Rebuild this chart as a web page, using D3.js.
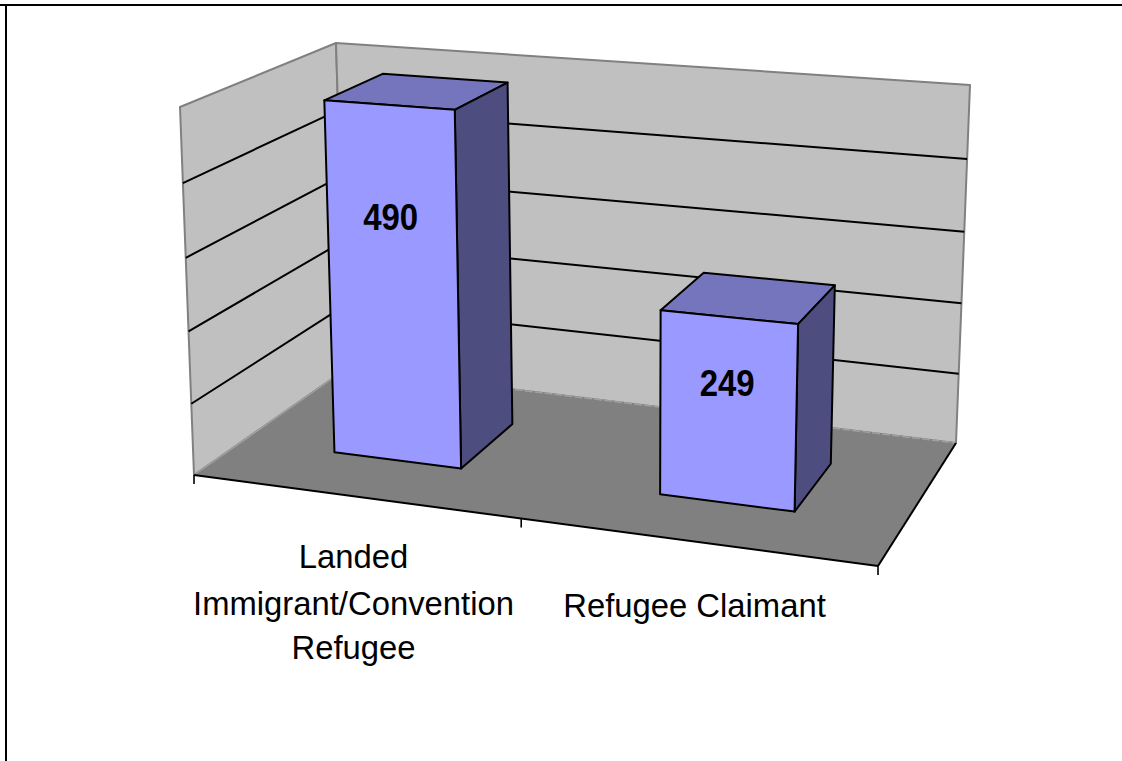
<!DOCTYPE html>
<html><head><meta charset="utf-8">
<script src="https://cdn.jsdelivr.net/npm/d3@7"></script>
<style>html,body{margin:0;padding:0;background:#fff}svg{display:block}text{font-family:"Liberation Sans",Arial,sans-serif}</style>
</head><body><svg id="c" width="1122" height="761"></svg>
<script>
const categories = ["Landed Immigrant/Convention Refugee", "Refugee Claimant"];
const categoryLines = [["Landed", "Immigrant/Convention", "Refugee"], ["Refugee Claimant"]];
const values = [490, 249];
const valueTicks = [0, 100, 200, 300, 400, 500];

const W = 1122, H = 761;
const svg = d3.select("#c");

// unit-square -> quadrilateral projective map (corners: u0w0, u1w0, u1w1, u0w1)
function quad(p0, p1, p2, p3) {
  const dx1 = p1[0]-p2[0], dx2 = p3[0]-p2[0], sx = p0[0]-p1[0]+p2[0]-p3[0];
  const dy1 = p1[1]-p2[1], dy2 = p3[1]-p2[1], sy = p0[1]-p1[1]+p2[1]-p3[1];
  const den = dx1*dy2 - dx2*dy1;
  const g = (sx*dy2 - dx2*sy)/den, h = (dx1*sy - sx*dy1)/den;
  const a = p1[0]-p0[0]+g*p1[0], b = p3[0]-p0[0]+h*p3[0], c = p0[0];
  const d = p1[1]-p0[1]+g*p1[1], e = p3[1]-p0[1]+h*p3[1], f = p0[1];
  return (u, w) => { const q = g*u+h*w+1; return [(a*u+b*w+c)/q, (d*u+e*w+f)/q]; };
}
const floorMap = quad([194,475],[878,566],[956,443],[346,369]);
const topMap   = quad([180,107],[890,160],[970,85],[336,43]);

const xScale = d3.scaleBand().domain(categories).range([-0.006,0.994]).paddingInner(0.604).paddingOuter(0.302);
const yScale = d3.scaleLinear().domain([0,500]).range([0,1]);
const k = 0.96;
function P(u, val, w) {
  const v = yScale(val), s = v*k/(1+(k-1)*v);
  const a = floorMap(u,w), b = topMap(u,w);
  return [a[0]+(b[0]-a[0])*s, a[1]+(b[1]-a[1])*s];
}
const line = d3.line();
const poly = (pts, fill, stroke, sw) => svg.append("path").attr("d", line(pts)+"Z")
  .attr("fill", fill).attr("stroke", stroke||"none").attr("stroke-width", sw||0).attr("stroke-linejoin","round");
const seg = (a, b, stroke, sw, dash) => svg.append("line")
  .attr("x1",a[0]).attr("y1",a[1]).attr("x2",b[0]).attr("y2",b[1])
  .attr("stroke",stroke).attr("stroke-width",sw).attr("stroke-dasharray",dash||null);

// outer frame
seg([0,5],[W,5],"#000",2);
seg([6,4],[6,H],"#000",2);

// walls
const maxV = 500, grey = "#808080";
poly([P(0,0,0),P(0,maxV,0),P(0,maxV,1),P(0,0,1)],"#C0C0C0",grey,2);
poly([P(0,0,1),P(0,maxV,1),P(1,maxV,1),P(1,0,1)],"#C0C0C0",grey,2);
valueTicks.slice(1,-1).forEach(t => {
  seg(P(0,t,0),P(0,t,1),"#000",2);
  seg(P(0,t,1),P(1,t,1),"#000",2);
});
// floor
poly([P(0,0,0),P(1,0,0),P(1,0,1),P(0,0,1)],"#808080");
seg(P(0,0,1),P(1,0,1),"#a0a0a0",1.5,"8 2");
seg(P(0,0,0),P(0,0,1),"#a0a0a0",1.5);
seg(P(0,0,0),P(1,0,0),"#000",2);
seg(P(1,0,0),P(1,0,1),"#000",2);
const step = xScale.step();
[0, xScale(categories[1]) - step*0.302, 1].forEach(u => { const p = P(u,0,0); seg(p,[p[0],p[1]+9],"#000",1.6); });

// bars
const w0 = 0.30, w1 = 0.70;
categories.forEach((c,i) => {
  const u0 = xScale(c), u1 = u0 + xScale.bandwidth(), val = values[i];
  poly([P(u0,val,w0),P(u1,val,w0),P(u1,val,w1),P(u0,val,w1)],"#7575BD","#000",2);
  poly([P(u1,0,w0),P(u1,val,w0),P(u1,val,w1),P(u1,0,w1)],"#4D4D80","#000",2);
  poly([P(u0,0,w0),P(u1,0,w0),P(u1,val,w0),P(u0,val,w0)],"#9999FF","#000",2);
  const lp = P((u0+u1)/2, 0.74*val-23, w0);
  svg.append("text").attr("x",lp[0]-1).attr("y",lp[1]).attr("dy","0.35em")
    .attr("text-anchor","middle").attr("font-size",37).attr("font-weight","bold").attr("fill","#000")
    .attr("textLength",55).attr("lengthAdjust","spacingAndGlyphs").text(val);
});

// category labels
const labelX = [353.5, 694.5], labelY = [[568,615,659],[617]];
categoryLines.forEach((ls,i) => ls.forEach((t,j) => {
  svg.append("text").attr("x",labelX[i]).attr("y",labelY[i][j]).attr("text-anchor","middle")
    .attr("font-size",32.8).attr("fill","#000").text(t);
}));
</script></body></html>
